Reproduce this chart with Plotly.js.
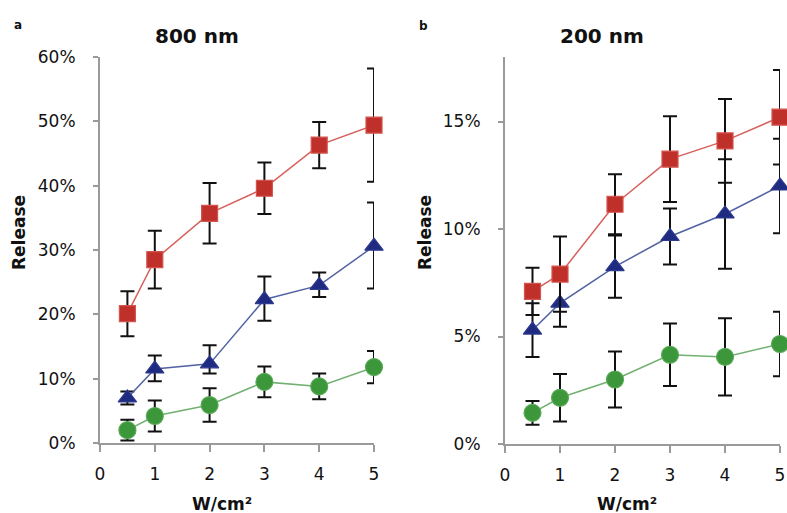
<!DOCTYPE html>
<html>
<head>
<meta charset="utf-8">
<script src="https://cdn.plot.ly/plotly-3.0.1.min.js"></script>
<style>html,body{margin:0;padding:0;background:#fff}#chart{width:787px;height:513px}</style>
</head>
<body>
<div id="chart"></div>
<script>
// Power density (W/cm²)
const power = [0.5, 1, 2, 3, 4, 5];

// Panel a: 800 nm (release, %)
const a_red = [20.1, 28.5, 35.7, 39.6, 46.3, 49.4];
const a_red_err = [3.5, 4.5, 4.7, 4.0, 3.6, 8.8];
const a_blue = [7.0, 11.5, 12.3, 22.3, 24.5, 30.6];
const a_blue_err_plus = [1.0, 2.1, 2.9, 3.6, 2.0, 6.8];
const a_blue_err_minus = [1.0, 1.9, 1.5, 3.3, 1.8, 6.6];
const a_green = [2.0, 4.2, 5.9, 9.5, 8.8, 11.8];
const a_green_err = [1.6, 2.4, 2.6, 2.4, 2.0, 2.5];

// Panel b: 200 nm (release, %)
const b_red = [7.1, 7.9, 11.15, 13.25, 14.1, 15.2];
const b_red_err = [1.1, 1.75, 1.4, 2.0, 1.95, 2.2];
const b_blue = [5.3, 6.55, 8.25, 9.65, 10.7, 12.0];
const b_blue_err = [1.25, 1.1, 1.45, 1.3, 2.55, 2.2];
const b_green = [1.45, 2.15, 3.0, 4.15, 4.05, 4.65];
const b_green_err = [0.55, 1.1, 1.3, 1.45, 1.8, 1.5];

// Tick labels
const xTicks = [0, 1, 2, 3, 4, 5];
const xTickText = ['0', '1', '2', '3', '4', '5'];
const aYTicks = [0, 10, 20, 30, 40, 50, 60];
const aYTickText = ['0%', '10%', '20%', '30%', '40%', '50%', '60%'];
const bYTicks = [0, 5, 10, 15];
const bYTickText = ['0%', '5%', '10%', '15%'];

const panelTitles = ['800 nm', '200 nm'];
const panelLetters = ['a', 'b'];
const xTitle = 'W/cm²';
const yTitle = 'Release';

const W = 787, H = 513;
const px = x => x / W;
const py = y => 1 - y / H;

const styles = {
  red:   {symbol: 'square', size: 16, fill: '#C0302A', edge: '#D4544E', line: '#D6605B'},
  blue:  {symbol: 'triangle-up', size: 16, fill: '#1F2B80', edge: '#2E3A8E', line: '#5262A2'},
  green: {symbol: 'circle', size: 17, fill: '#3C963A', edge: '#58A857', line: '#72B071'}
};

function tr(y, errPlus, errMinus, st, xa, ya) {
  const ey = {type: 'data', array: errPlus, visible: true, color: '#111', thickness: 2, width: 7};
  if (errMinus) { ey.symmetric = false; ey.arrayminus = errMinus; }
  return {
    x: power, y: y, type: 'scatter', mode: 'lines+markers',
    xaxis: xa, yaxis: ya, cliponaxis: false, showlegend: false,
    line: {color: st.line, width: 1.5},
    marker: {symbol: st.symbol, size: st.size, color: st.fill, line: {color: st.edge, width: 1.2}},
    error_y: ey
  };
}

const data = [
  tr(a_green, a_green_err, null, styles.green, 'x', 'y'),
  tr(a_blue, a_blue_err_plus, a_blue_err_minus, styles.blue, 'x', 'y'),
  tr(a_red, a_red_err, null, styles.red, 'x', 'y'),
  tr(b_green, b_green_err, null, styles.green, 'x2', 'y2'),
  tr(b_blue, b_blue_err, null, styles.blue, 'x2', 'y2'),
  tr(b_red, b_red_err, null, styles.red, 'x2', 'y2')
];

const tickFont = {family: 'DejaVu Sans, sans-serif', size: 17, color: '#111'};
const axisCommon = {
  showgrid: false, zeroline: false, showline: true, linecolor: '#9a9a9a', linewidth: 2,
  ticks: 'outside', tickcolor: '#9a9a9a', tickwidth: 2, tickfont: tickFont, fixedrange: true,
  tickmode: 'array'
};

const layout = {
  width: W, height: H,
  margin: {l: 0, r: 0, t: 0, b: 0},
  paper_bgcolor: '#fff', plot_bgcolor: '#fff',
  xaxis: Object.assign({}, axisCommon, {domain: [px(100), px(374)], range: [0, 5], tickvals: xTicks, ticktext: xTickText, ticklen: 7, ticklabelstandoff: 8, anchor: 'y'}),
  yaxis: Object.assign({}, axisCommon, {domain: [py(443), py(57)], range: [0, 60], tickvals: aYTicks, ticktext: aYTickText, ticklen: 5, ticklabelstandoff: 14, anchor: 'x'}),
  xaxis2: Object.assign({}, axisCommon, {domain: [px(505), px(780)], range: [0, 5], tickvals: xTicks, ticktext: xTickText, ticklen: 7, ticklabelstandoff: 8, anchor: 'y2'}),
  yaxis2: Object.assign({}, axisCommon, {domain: [py(444), py(57)], range: [0, 18], tickvals: bYTicks, ticktext: bYTickText, ticklen: 5, ticklabelstandoff: 14, anchor: 'x2'}),
  annotations: []
};

const boldFont = (s) => ({family: 'DejaVu Sans, sans-serif', size: s, color: '#111', weight: 'bold'});
function ann(text, x, y, size, angle) {
  layout.annotations.push({
    text: '<b>' + text + '</b>', xref: 'paper', yref: 'paper', x: px(x), y: py(y),
    xanchor: 'center', yanchor: 'middle', showarrow: false, font: boldFont(size), textangle: angle || 0
  });
}
ann(panelTitles[0], 197, 36, 20);
ann(panelTitles[1], 602, 36, 20);
ann(panelLetters[0], 18, 25, 12);
ann(panelLetters[1], 424, 26, 12);
ann(yTitle, 19, 233, 17, -90);
ann(yTitle, 425, 233, 17, -90);
ann(xTitle, 222, 504, 17);
ann(xTitle, 627, 504, 17);

Plotly.newPlot('chart', data, layout, {displayModeBar: false, staticPlot: true});
</script>
</body>
</html>
